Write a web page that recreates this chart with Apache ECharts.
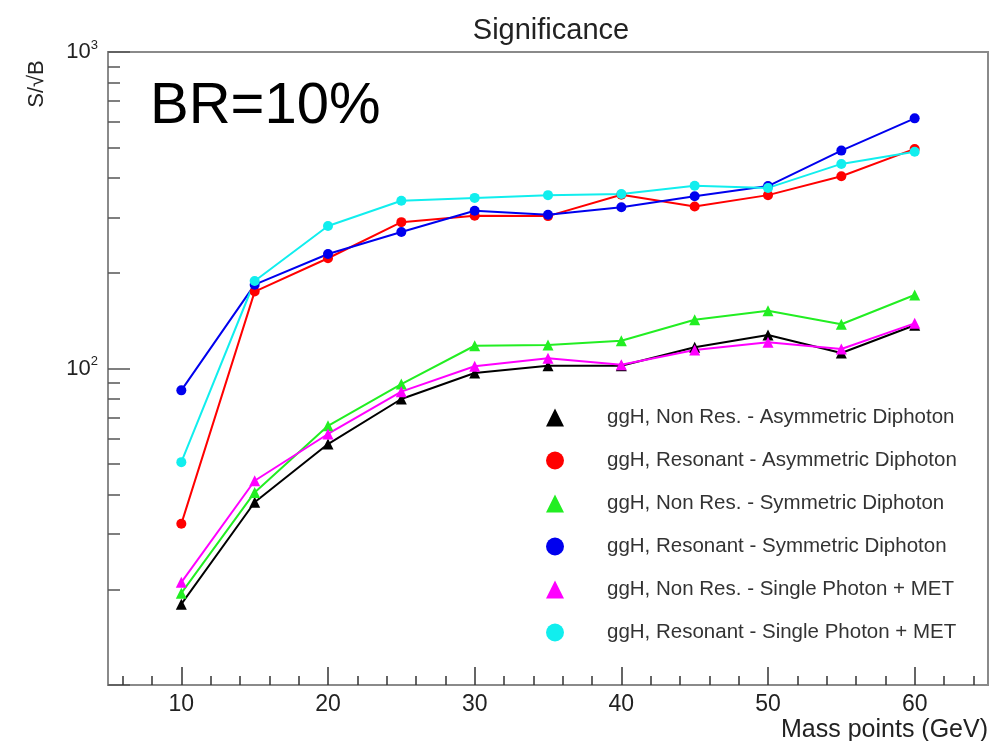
<!DOCTYPE html>
<html>
<head>
<meta charset="utf-8">
<title>Significance</title>
<script src="https://cdn.jsdelivr.net/npm/echarts@6.0.0/dist/echarts.min.js"></script>
<style>
  html, body { margin: 0; padding: 0; background: #fff; }
  #chart { width: 989px; height: 741px; }
</style>
</head>
<body>
<div id="chart"></div>
<script>
// mass points (GeV)
var masses = [10, 15, 20, 25, 30, 35, 40, 45, 50, 55, 60];

// S/sqrt(B)
var nonResAsym = [18.0, 37.8, 57.7, 80.1, 96.8, 102, 102, 116.7, 127.6, 111.9, 137];
var resAsym = [32.3, 175, 223, 290, 304, 303, 354, 325, 353, 405, 494];
var nonResSym = [19.5, 40.6, 65.9, 89.3, 118, 118.6, 122.4, 142.6, 152.3, 138, 170.7];
var resSym = [85.3, 184, 230, 270, 315, 306, 323, 350, 377, 488, 617];
var nonResSingle = [21.1, 44.2, 62.1, 84.5, 101.6, 107.7, 102.8, 114.4, 121, 115.3, 138.9];
var resSingle = [50.6, 189, 282, 339, 346, 353, 356, 378, 372, 443, 484];

// ticks
var xMajorTicks = [10, 20, 30, 40, 50, 60];
var xMinorTicks = [6, 8, 12, 14, 16, 18, 22, 24, 26, 28, 32, 34, 36, 38, 42, 44, 46, 48, 52, 54, 56, 58, 62, 64];
var yMajorTicks = [10, 100, 1000];
var yLabelTicks = [100, 1000];
var yMinorTicks = [20, 30, 40, 50, 60, 70, 80, 90, 200, 300, 400, 500, 600, 700, 800, 900];

var FONT = 'Liberation Sans, Arial, Helvetica, sans-serif';

function pairs(ys) {
    return masses.map(function (m, i) { return [m, ys[i]]; });
}

var seriesDefs = [
    { name: 'ggH, Non Res. - Asymmetric Diphoton', data: nonResAsym, color: '#000000', symbol: 'triangle' },
    { name: 'ggH, Resonant - Asymmetric Diphoton', data: resAsym, color: '#ff0000', symbol: 'circle' },
    { name: 'ggH, Non Res. - Symmetric Diphoton', data: nonResSym, color: '#22ee22', symbol: 'triangle' },
    { name: 'ggH, Resonant - Symmetric Diphoton', data: resSym, color: '#0000ee', symbol: 'circle' },
    { name: 'ggH, Non Res. - Single Photon + MET', data: nonResSingle, color: '#ff00ff', symbol: 'triangle' },
    { name: 'ggH, Resonant - Single Photon + MET', data: resSingle, color: '#11eeee', symbol: 'circle' }
];

var myChart = echarts.init(document.getElementById('chart'));

myChart.setOption({
    animation: false,
    textStyle: { fontFamily: FONT },
    title: {
        text: 'Significance',
        left: 546,
        top: 11,
        textAlign: 'center',
        textStyle: { fontSize: 29, fontWeight: 'normal', color: '#222', fontFamily: FONT }
    },
    graphic: [
        {
            type: 'text',
            x: 150,
            y: 78,
            style: { text: 'BR=10%', font: '58px ' + FONT, fill: '#000' }
        },
        {
            type: 'text',
            x: 37,
            y: 84,
            rotation: Math.PI / 2,
            style: {
                text: 'S/\u221AB',
                font: '22px ' + FONT,
                fill: '#222',
                textAlign: 'center',
                textVerticalAlign: 'middle'
            }
        },
        {
            // x axis title, right-aligned under the axis end
            type: 'text',
            x: 988,
            y: 718,
            style: {
                text: 'Mass points (GeV)',
                font: '25px ' + FONT,
                fill: '#222',
                textAlign: 'right',
                textVerticalAlign: 'top'
            }
        }
    ],
    legend: {
        orient: 'vertical',
        left: 541,
        top: 402,
        itemWidth: 18,
        itemHeight: 18,
        itemGap: 22,
        textStyle: { fontSize: 20.5, color: '#333', fontFamily: FONT, padding: [0, 0, 0, 38] },
        data: seriesDefs.map(function (s) { return { name: s.name, icon: s.symbol }; })
    },
    grid: {
        left: 108,
        right: 1,
        top: 52,
        bottom: 56,
        outerBoundsMode: 'none',
        show: true,
        borderColor: '#8a8a8a',
        borderWidth: 2
    },
    xAxis: [
        {
            type: 'value',
            min: 5,
            max: 65,
            axisLine: { show: true, lineStyle: { color: '#8a8a8a', width: 2 } },
            axisTick: { show: true, inside: true, length: 18, customValues: xMajorTicks, lineStyle: { color: '#333', width: 1.5 } },
            axisLabel: { customValues: xMajorTicks, fontSize: 23, color: '#222', margin: 8 },
            splitLine: { show: false }
        },
        {
            type: 'value',
            min: 5,
            max: 65,
            position: 'bottom',
            axisLine: { show: false },
            axisTick: { show: true, inside: true, length: 9, customValues: xMinorTicks, lineStyle: { color: '#333', width: 1.5 } },
            axisLabel: { show: false },
            splitLine: { show: false }
        }
    ],
    yAxis: [
        {
            type: 'log',
            logBase: 10,
            min: 10,
            max: 1000,
            axisLine: { show: true, lineStyle: { color: '#8a8a8a', width: 2 } },
            axisTick: { show: true, inside: true, length: 22, customValues: yMajorTicks, lineStyle: { color: '#555', width: 1.5 } },
            axisLabel: {
                customValues: yLabelTicks,
                margin: 10,
                formatter: function (v) {
                    return '{b|10}{e|' + Math.round(Math.log10(v)) + '}';
                },
                rich: {
                    b: { fontSize: 22, color: '#222', fontFamily: FONT },
                    e: { fontSize: 13, color: '#222', fontFamily: FONT, padding: [0, 0, 14, 0] }
                }
            },
            splitLine: { show: false }
        },
        {
            type: 'log',
            logBase: 10,
            min: 10,
            max: 1000,
            position: 'left',
            axisLine: { show: false },
            axisTick: { show: true, inside: true, length: 12, customValues: yMinorTicks, lineStyle: { color: '#555', width: 1.5 } },
            axisLabel: { show: false },
            splitLine: { show: false }
        }
    ],
    series: seriesDefs.map(function (s) {
        return {
            name: s.name,
            type: 'line',
            xAxisIndex: 0,
            yAxisIndex: 0,
            data: pairs(s.data),
            symbol: s.symbol,
            symbolSize: s.symbol === 'circle' ? 10 : 11,
            showSymbol: true,
            color: s.color,
            lineStyle: { color: s.color, width: 2 },
            itemStyle: { color: s.color }
        };
    })
});
</script>
</body>
</html>
